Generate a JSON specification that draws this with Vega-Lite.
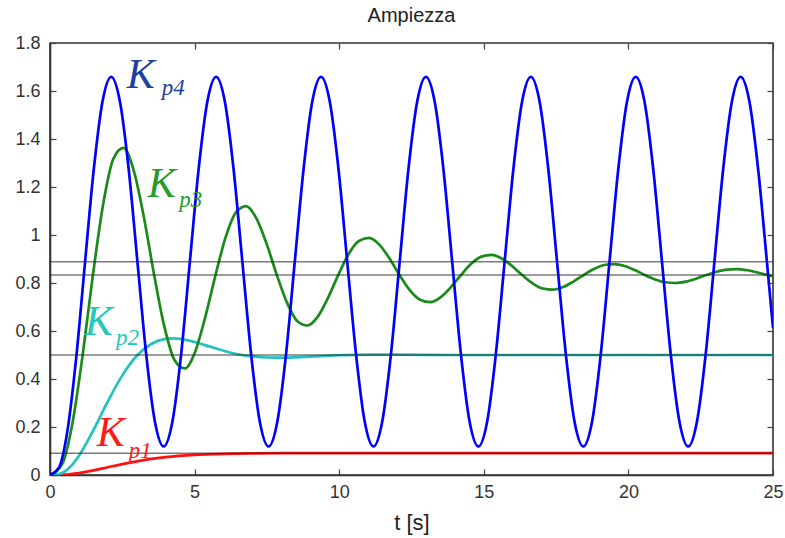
{
  "$schema": "https://vega.github.io/schema/vega-lite/v6.json",
  "width": 723,
  "height": 432,
  "autosize": "none",
  "padding": {"left": 50, "top": 43, "right": 12, "bottom": 63},
  "background": "white",
  "title": {"text": "Ampiezza", "fontSize": 20, "fontWeight": "normal", "font": "Liberation Sans", "color": "#222222", "offset": 8},
  "config": {
    "view": {"stroke": "#333333", "strokeWidth": 1.6},
    "axis": {"grid": false, "domainColor": "#333333", "domainWidth": 1.6, "tickColor": "#444444", "tickWidth": 1.2, "tickSize": -6,
      "labelFont": "Liberation Sans", "labelFontSize": 18, "labelColor": "#333333", "labelFlush": false, "labelOverlap": false,
      "titleFont": "Liberation Sans", "titleFontWeight": "normal", "titleColor": "#222222", "titleFontSize": 22}
  },
  "datasets": {
    "curves": [
      {"s": "Kp1", "t": 0, "y": 0}, {"s": "Kp1", "t": 0.5, "y": 0.0014}, {"s": "Kp1", "t": 1, "y": 0.008}, {"s": "Kp1", "t": 1.5, "y": 0.0191},
      {"s": "Kp1", "t": 2, "y": 0.0322}, {"s": "Kp1", "t": 2.5, "y": 0.0452}, {"s": "Kp1", "t": 3, "y": 0.0568}, {"s": "Kp1", "t": 4, "y": 0.0741},
      {"s": "Kp1", "t": 5, "y": 0.0838}, {"s": "Kp1", "t": 6, "y": 0.0884}, {"s": "Kp1", "t": 7, "y": 0.0903}, {"s": "Kp1", "t": 8, "y": 0.0909},
      {"s": "Kp1", "t": 10, "y": 0.091}, {"s": "Kp1", "t": 12, "y": 0.0909}, {"s": "Kp1", "t": 15, "y": 0.0909}, {"s": "Kp1", "t": 20, "y": 0.0909},
      {"s": "Kp1", "t": 25, "y": 0.0909},

      {"s": "Kp2", "t": 0, "y": 0}, {"s": "Kp2", "t": 0.25, "y": 0.002}, {"s": "Kp2", "t": 0.5, "y": 0.014}, {"s": "Kp2", "t": 0.75, "y": 0.040},
      {"s": "Kp2", "t": 1, "y": 0.080}, {"s": "Kp2", "t": 1.5, "y": 0.187}, {"s": "Kp2", "t": 2, "y": 0.307}, {"s": "Kp2", "t": 2.5, "y": 0.415},
      {"s": "Kp2", "t": 3, "y": 0.497}, {"s": "Kp2", "t": 3.5, "y": 0.546}, {"s": "Kp2", "t": 4, "y": 0.5675}, {"s": "Kp2", "t": 4.25, "y": 0.5695},
      {"s": "Kp2", "t": 4.5, "y": 0.567}, {"s": "Kp2", "t": 5, "y": 0.554}, {"s": "Kp2", "t": 5.5, "y": 0.536}, {"s": "Kp2", "t": 6, "y": 0.518},
      {"s": "Kp2", "t": 6.5, "y": 0.503}, {"s": "Kp2", "t": 7, "y": 0.494}, {"s": "Kp2", "t": 7.5, "y": 0.4895}, {"s": "Kp2", "t": 8, "y": 0.4888},
      {"s": "Kp2", "t": 8.5, "y": 0.4905}, {"s": "Kp2", "t": 9, "y": 0.4934}, {"s": "Kp2", "t": 9.5, "y": 0.4964}, {"s": "Kp2", "t": 10, "y": 0.4989},
      {"s": "Kp2", "t": 11, "y": 0.5016}, {"s": "Kp2", "t": 12, "y": 0.5016}, {"s": "Kp2", "t": 14, "y": 0.4999}, {"s": "Kp2", "t": 17, "y": 0.5},
      {"s": "Kp2", "t": 20, "y": 0.5}, {"s": "Kp2", "t": 25, "y": 0.5},

      {"s": "Kp3", "t": 0, "y": 0}, {"s": "Kp3", "t": 0.419, "y": 0.045}, {"s": "Kp3", "t": 0.773, "y": 0.214}, {"s": "Kp3", "t": 1.127, "y": 0.498},
      {"s": "Kp3", "t": 1.48, "y": 0.83}, {"s": "Kp3", "t": 1.834, "y": 1.125}, {"s": "Kp3", "t": 2.187, "y": 1.316}, {"s": "Kp3", "t": 2.541, "y": 1.363},
      {"s": "Kp3", "t": 2.894, "y": 1.269}, {"s": "Kp3", "t": 3.248, "y": 1.073}, {"s": "Kp3", "t": 3.602, "y": 0.833}, {"s": "Kp3", "t": 3.955, "y": 0.618},
      {"s": "Kp3", "t": 4.309, "y": 0.478}, {"s": "Kp3", "t": 4.662, "y": 0.444}, {"s": "Kp3", "t": 5.016, "y": 0.513}, {"s": "Kp3", "t": 5.369, "y": 0.658},
      {"s": "Kp3", "t": 5.723, "y": 0.833}, {"s": "Kp3", "t": 6.077, "y": 0.992}, {"s": "Kp3", "t": 6.43, "y": 1.094}, {"s": "Kp3", "t": 6.784, "y": 1.12},
      {"s": "Kp3", "t": 7.137, "y": 1.069}, {"s": "Kp3", "t": 7.491, "y": 0.963}, {"s": "Kp3", "t": 7.844, "y": 0.833}, {"s": "Kp3", "t": 8.198, "y": 0.717},
      {"s": "Kp3", "t": 8.552, "y": 0.641}, {"s": "Kp3", "t": 8.905, "y": 0.623}, {"s": "Kp3", "t": 9.259, "y": 0.66}, {"s": "Kp3", "t": 9.612, "y": 0.738},
      {"s": "Kp3", "t": 9.966, "y": 0.833}, {"s": "Kp3", "t": 10.319, "y": 0.919}, {"s": "Kp3", "t": 10.673, "y": 0.974}, {"s": "Kp3", "t": 11.027, "y": 0.988},
      {"s": "Kp3", "t": 11.38, "y": 0.961}, {"s": "Kp3", "t": 11.734, "y": 0.903}, {"s": "Kp3", "t": 12.087, "y": 0.833}, {"s": "Kp3", "t": 12.441, "y": 0.77},
      {"s": "Kp3", "t": 12.794, "y": 0.73}, {"s": "Kp3", "t": 13.148, "y": 0.72}, {"s": "Kp3", "t": 13.502, "y": 0.74}, {"s": "Kp3", "t": 13.855, "y": 0.782},
      {"s": "Kp3", "t": 14.209, "y": 0.833}, {"s": "Kp3", "t": 14.562, "y": 0.88}, {"s": "Kp3", "t": 14.916, "y": 0.91}, {"s": "Kp3", "t": 15.269, "y": 0.917},
      {"s": "Kp3", "t": 15.623, "y": 0.902}, {"s": "Kp3", "t": 15.977, "y": 0.871}, {"s": "Kp3", "t": 16.33, "y": 0.833}, {"s": "Kp3", "t": 16.684, "y": 0.799},
      {"s": "Kp3", "t": 17.037, "y": 0.777}, {"s": "Kp3", "t": 17.391, "y": 0.772}, {"s": "Kp3", "t": 17.744, "y": 0.783}, {"s": "Kp3", "t": 18.098, "y": 0.806},
      {"s": "Kp3", "t": 18.451, "y": 0.833}, {"s": "Kp3", "t": 18.805, "y": 0.858}, {"s": "Kp3", "t": 19.159, "y": 0.875}, {"s": "Kp3", "t": 19.512, "y": 0.879},
      {"s": "Kp3", "t": 19.866, "y": 0.871}, {"s": "Kp3", "t": 20.219, "y": 0.854}, {"s": "Kp3", "t": 20.573, "y": 0.833}, {"s": "Kp3", "t": 20.926, "y": 0.815},
      {"s": "Kp3", "t": 21.28, "y": 0.803}, {"s": "Kp3", "t": 21.634, "y": 0.8}, {"s": "Kp3", "t": 21.987, "y": 0.806}, {"s": "Kp3", "t": 22.341, "y": 0.818},
      {"s": "Kp3", "t": 22.694, "y": 0.833}, {"s": "Kp3", "t": 23.048, "y": 0.847}, {"s": "Kp3", "t": 23.401, "y": 0.856}, {"s": "Kp3", "t": 23.755, "y": 0.858},
      {"s": "Kp3", "t": 24.109, "y": 0.853}, {"s": "Kp3", "t": 24.462, "y": 0.844}, {"s": "Kp3", "t": 24.816, "y": 0.833}, {"s": "Kp3", "t": 25, "y": 0.828},

      {"s": "Kp4", "t": 0, "y": 0}, {"s": "Kp4", "t": 0.302, "y": 0.029}, {"s": "Kp4", "t": 0.605, "y": 0.186}, {"s": "Kp4", "t": 0.907, "y": 0.489},
      {"s": "Kp4", "t": 1.209, "y": 0.883}, {"s": "Kp4", "t": 1.512, "y": 1.271}, {"s": "Kp4", "t": 1.814, "y": 1.555}, {"s": "Kp4", "t": 2.116, "y": 1.659},
      {"s": "Kp4", "t": 2.418, "y": 1.556}, {"s": "Kp4", "t": 2.721, "y": 1.274}, {"s": "Kp4", "t": 3.023, "y": 0.889}, {"s": "Kp4", "t": 3.325, "y": 0.504},
      {"s": "Kp4", "t": 3.628, "y": 0.222}, {"s": "Kp4", "t": 3.93, "y": 0.119}, {"s": "Kp4", "t": 4.232, "y": 0.222}, {"s": "Kp4", "t": 4.535, "y": 0.504},
      {"s": "Kp4", "t": 4.837, "y": 0.889}, {"s": "Kp4", "t": 5.139, "y": 1.274}, {"s": "Kp4", "t": 5.441, "y": 1.556}, {"s": "Kp4", "t": 5.744, "y": 1.659},
      {"s": "Kp4", "t": 6.046, "y": 1.556}, {"s": "Kp4", "t": 6.348, "y": 1.274}, {"s": "Kp4", "t": 6.651, "y": 0.889}, {"s": "Kp4", "t": 6.953, "y": 0.504},
      {"s": "Kp4", "t": 7.255, "y": 0.222}, {"s": "Kp4", "t": 7.558, "y": 0.119}, {"s": "Kp4", "t": 7.86, "y": 0.222}, {"s": "Kp4", "t": 8.162, "y": 0.504},
      {"s": "Kp4", "t": 8.464, "y": 0.889}, {"s": "Kp4", "t": 8.767, "y": 1.274}, {"s": "Kp4", "t": 9.069, "y": 1.556}, {"s": "Kp4", "t": 9.371, "y": 1.659},
      {"s": "Kp4", "t": 9.674, "y": 1.556}, {"s": "Kp4", "t": 9.976, "y": 1.274}, {"s": "Kp4", "t": 10.278, "y": 0.889}, {"s": "Kp4", "t": 10.581, "y": 0.504},
      {"s": "Kp4", "t": 10.883, "y": 0.222}, {"s": "Kp4", "t": 11.185, "y": 0.119}, {"s": "Kp4", "t": 11.487, "y": 0.222}, {"s": "Kp4", "t": 11.79, "y": 0.504},
      {"s": "Kp4", "t": 12.092, "y": 0.889}, {"s": "Kp4", "t": 12.394, "y": 1.274}, {"s": "Kp4", "t": 12.697, "y": 1.556}, {"s": "Kp4", "t": 12.999, "y": 1.659},
      {"s": "Kp4", "t": 13.301, "y": 1.556}, {"s": "Kp4", "t": 13.604, "y": 1.274}, {"s": "Kp4", "t": 13.906, "y": 0.889}, {"s": "Kp4", "t": 14.208, "y": 0.504},
      {"s": "Kp4", "t": 14.51, "y": 0.222}, {"s": "Kp4", "t": 14.813, "y": 0.119}, {"s": "Kp4", "t": 15.115, "y": 0.222}, {"s": "Kp4", "t": 15.417, "y": 0.504},
      {"s": "Kp4", "t": 15.72, "y": 0.889}, {"s": "Kp4", "t": 16.022, "y": 1.274}, {"s": "Kp4", "t": 16.324, "y": 1.556}, {"s": "Kp4", "t": 16.627, "y": 1.659},
      {"s": "Kp4", "t": 16.929, "y": 1.556}, {"s": "Kp4", "t": 17.231, "y": 1.274}, {"s": "Kp4", "t": 17.533, "y": 0.889}, {"s": "Kp4", "t": 17.836, "y": 0.504},
      {"s": "Kp4", "t": 18.138, "y": 0.222}, {"s": "Kp4", "t": 18.44, "y": 0.119}, {"s": "Kp4", "t": 18.743, "y": 0.222}, {"s": "Kp4", "t": 19.045, "y": 0.504},
      {"s": "Kp4", "t": 19.347, "y": 0.889}, {"s": "Kp4", "t": 19.65, "y": 1.274}, {"s": "Kp4", "t": 19.952, "y": 1.556}, {"s": "Kp4", "t": 20.254, "y": 1.659},
      {"s": "Kp4", "t": 20.556, "y": 1.556}, {"s": "Kp4", "t": 20.859, "y": 1.274}, {"s": "Kp4", "t": 21.161, "y": 0.889}, {"s": "Kp4", "t": 21.463, "y": 0.504},
      {"s": "Kp4", "t": 21.766, "y": 0.222}, {"s": "Kp4", "t": 22.068, "y": 0.119}, {"s": "Kp4", "t": 22.37, "y": 0.222}, {"s": "Kp4", "t": 22.673, "y": 0.504},
      {"s": "Kp4", "t": 22.975, "y": 0.889}, {"s": "Kp4", "t": 23.277, "y": 1.274}, {"s": "Kp4", "t": 23.579, "y": 1.556}, {"s": "Kp4", "t": 23.882, "y": 1.659},
      {"s": "Kp4", "t": 24.184, "y": 1.556}, {"s": "Kp4", "t": 24.486, "y": 1.274}, {"s": "Kp4", "t": 24.789, "y": 0.889}, {"s": "Kp4", "t": 25, "y": 0.613}
    ],
    "refs": [{"v": 0.0909}, {"v": 0.5}, {"v": 0.8333}, {"v": 0.8889}],
    "labels": [
      {"s": "Kp1", "tk": 1.62, "yk": 0.12, "ts": 2.72, "ys": 0.07, "sub": "p1"},
      {"s": "Kp2", "tk": 1.2, "yk": 0.583, "ts": 2.28, "ys": 0.54, "sub": "p2"},
      {"s": "Kp3", "tk": 3.38, "yk": 1.158, "ts": 4.47, "ys": 1.117, "sub": "p3"},
      {"s": "Kp4", "tk": 2.65, "yk": 1.6125, "ts": 3.86, "ys": 1.583, "sub": "p4"}
    ]
  },
  "layer": [
    {
      "data": {"name": "curves"},
      "mark": {"type": "line", "interpolate": "monotone", "strokeWidth": 2.7, "clip": true},
      "encoding": {
        "x": {"field": "t", "type": "quantitative", "scale": {"domain": [0, 25], "nice": false, "zero": false},
          "axis": {"orient": "bottom", "values": [0, 5, 10, 15, 20, 25], "format": "d", "title": "t [s]", "labelPadding": 14, "titlePadding": 11}},
        "y": {"field": "y", "type": "quantitative", "scale": {"domain": [0, 1.8], "nice": false, "zero": false},
          "axis": {"orient": "left", "values": [0, 0.2, 0.4, 0.6, 0.8, 1, 1.2, 1.4, 1.6, 1.8], "labelExpr": "'' + datum.value", "title": null, "labelPadding": 16}},
        "color": {"field": "s", "type": "nominal", "scale": {"domain": ["Kp1", "Kp2", "Kp3", "Kp4"], "range": ["#ff1010", "#22c2c2", "#1a8a1a", "#0000ff"]}, "legend": null}
      }
    },
    {
      "data": {"name": "refs"},
      "mark": {"type": "rule", "color": "#222222", "strokeWidth": 1.5, "opacity": 0.6},
      "encoding": {
        "y": {"field": "v", "type": "quantitative", "scale": {"domain": [0, 1.8], "nice": false, "zero": false},
          "axis": {"orient": "right", "values": [0, 0.2, 0.4, 0.6, 0.8, 1, 1.2, 1.4, 1.6, 1.8], "labels": false, "title": null, "domain": false}}
      }
    },
    {
      "data": {"name": "labels"},
      "mark": {"type": "text", "font": "Liberation Serif", "fontStyle": "italic", "fontSize": 42, "align": "left", "baseline": "alphabetic"},
      "encoding": {
        "x": {"field": "tk", "type": "quantitative", "scale": {"domain": [0, 25], "nice": false, "zero": false},
          "axis": {"orient": "top", "values": [0, 5, 10, 15, 20, 25], "labels": false, "title": null, "domain": false}},
        "y": {"field": "yk", "type": "quantitative", "scale": {"domain": [0, 1.8], "nice": false, "zero": false}, "axis": null},
        "text": {"value": "K"},
        "color": {"field": "s", "type": "nominal", "scale": {"domain": ["Kp1", "Kp2", "Kp3", "Kp4"], "range": ["#ff1a1a", "#22c8b8", "#2a9a2a", "#2040a0"]}, "legend": null}
      }
    },
    {
      "data": {"name": "labels"},
      "mark": {"type": "text", "font": "Liberation Serif", "fontStyle": "italic", "fontSize": 23, "align": "left", "baseline": "alphabetic"},
      "encoding": {
        "x": {"field": "ts", "type": "quantitative", "scale": {"domain": [0, 25], "nice": false, "zero": false}, "axis": null},
        "y": {"field": "ys", "type": "quantitative", "scale": {"domain": [0, 1.8], "nice": false, "zero": false}, "axis": null},
        "text": {"field": "sub"},
        "color": {"field": "s", "type": "nominal", "scale": {"domain": ["Kp1", "Kp2", "Kp3", "Kp4"], "range": ["#ff1a1a", "#22c8b8", "#2a9a2a", "#2040a0"]}, "legend": null}
      }
    }
  ],
  "resolve": {"axis": {"x": "independent", "y": "independent"}, "scale": {"color": "independent"}}
}
